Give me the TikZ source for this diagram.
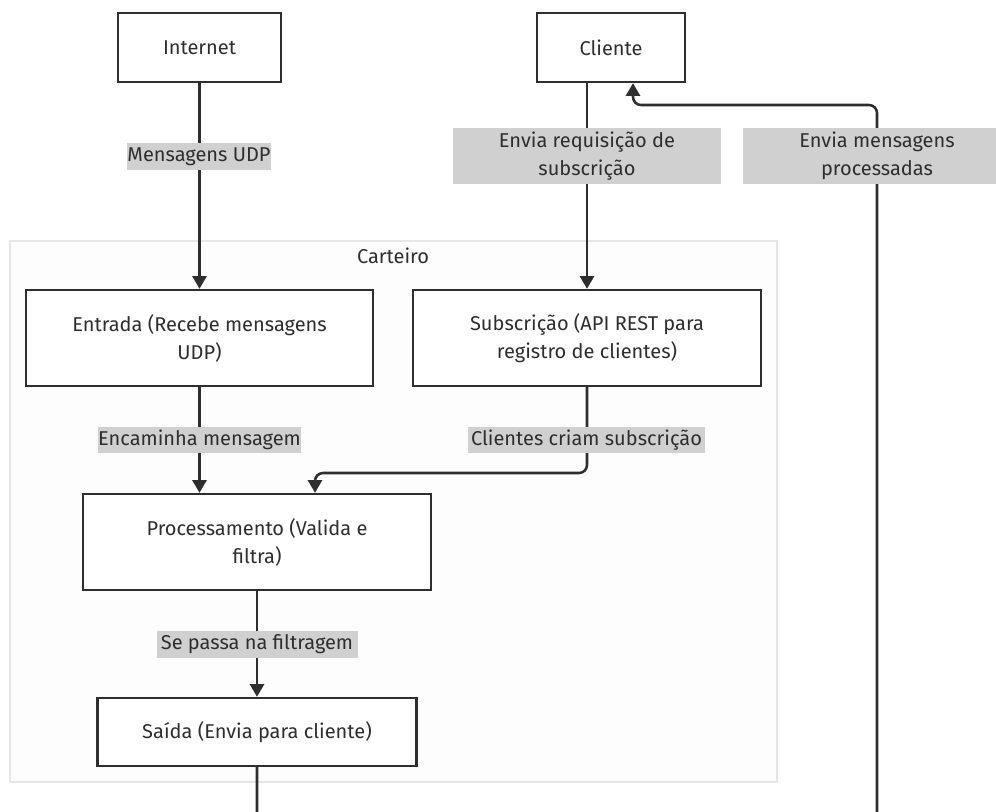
\documentclass[tikz,border=0pt]{standalone}
\usepackage{fontspec}
\setmainfont{Fira Sans}
\usetikzlibrary{arrows.meta,calc}
\definecolor{ink}{HTML}{2E2E2E}
\definecolor{edgegray}{HTML}{D0D0D0}
\definecolor{groupline}{HTML}{E6E6E6}
\definecolor{groupfill}{HTML}{FDFDFD}
\tikzset{
  box/.style={draw=ink, line width=1.8pt, fill=white, text=ink, align=center,
    inner sep=0pt, font=\fontsize{15}{21}\selectfont},
  tag/.style={fill=edgegray, text=ink, align=center, inner sep=0pt,
    font=\fontsize{15}{21}\selectfont},
  flow/.style={draw=ink, line width=1.9pt, -{Triangle[width=10.5pt,length=9.5pt]}},
}
\begin{document}
\begin{tikzpicture}[x=0.75pt,y=-0.75pt]
\useasboundingbox (0,0) rectangle (996,811);
\clip (0,0) rectangle (996,811);
\fill[white] (0,0) rectangle (996,811);

% group container
\draw[draw=groupline, fill=groupfill, line width=1.5pt] (10,241) rectangle (777,782);
\node[text=ink, font=\fontsize{15}{21}\selectfont] (grp) at (393,256) {Carteiro};

% process boxes
\node[box, minimum width=163*0.75pt, minimum height=69*0.75pt] (internet) at (199.5,47.5) {Internet};
\node[box, minimum width=148*0.75pt, minimum height=69*0.75pt] (cliente) at (611,47.5) {Cliente};
\node[box, minimum width=347*0.75pt, minimum height=96*0.75pt] (entrada) at (199.5,338) {Entrada (Recebe mensagens\\UDP)};
\node[box, minimum width=348*0.75pt, minimum height=96*0.75pt] (subs) at (587,338) {Subscrição (API REST para\\registro de clientes)};
\node[box, minimum width=348*0.75pt, minimum height=96*0.75pt] (proc) at (257,542) {Processamento (Valida e\\filtra)};
\node[box, minimum width=319*0.75pt, minimum height=68*0.75pt] (saida) at (257,732) {Saída (Envia para cliente)};

% routing points
\coordinate (j1) at (315,473);
\coordinate (b1) at (257,840);
\coordinate (b2) at (877,840);
\coordinate (t1) at (877,105);
\coordinate (cin) at ($(cliente.south)+(22,0)$);

% connectors
\draw[flow] (internet.south) -- (entrada.north);
\draw[flow] (subs.north |- cliente.south) -- (subs.north);
\draw[flow] (entrada.south) -- (entrada.south |- proc.north);
\draw[flow, rounded corners=6pt] (subs.south) |- (j1) -- (j1 |- proc.north);
\draw[flow] (proc.south) -- (saida.north);
\draw[flow, rounded corners=6pt] (saida.south) -- (b1) -- (b2) -- (t1) -| (cin);

% connector labels
\node[tag, minimum width=143*0.75pt, minimum height=27*0.75pt] (l1) at (199,156.5) {Mensagens UDP};
\node[tag, minimum width=268*0.75pt, minimum height=56*0.75pt] (l2) at (587,156) {Envia requisição de\\subscrição};
\node[tag, minimum width=268*0.75pt, minimum height=56*0.75pt] (l3) at (877,156) {Envia mensagens\\processadas};
\node[tag, minimum width=201*0.75pt, minimum height=26*0.75pt] (l4) at (199.5,440) {Encaminha mensagem};
\node[tag, minimum width=237*0.75pt, minimum height=26*0.75pt] (l5) at (586.5,440) {Clientes criam subscrição};
\node[tag, minimum width=201*0.75pt, minimum height=27*0.75pt] (l6) at (257,644.5) {Se passa na filtragem};
\end{tikzpicture}
\end{document}
